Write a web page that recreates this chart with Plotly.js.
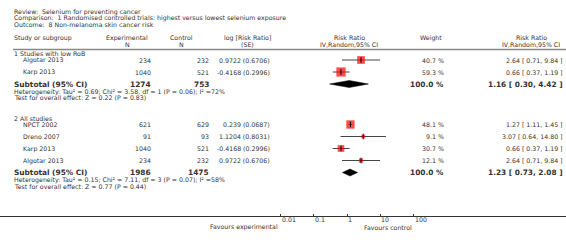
<!DOCTYPE html>
<html><head><meta charset="utf-8">
<script src="https://cdn.plot.ly/plotly-3.0.1.min.js"></script>
<style>html,body{margin:0;padding:0;background:#fff;overflow:hidden;}</style>
</head><body><div id="chart" style="width:566px;height:245px;"></div>
<script>
// ---------- data ----------
const titleLines = [
  'Review:  Selenium for preventing cancer',
  'Comparison:  1 Randomised controlled trials: highest versus lowest selenium exposure',
  'Outcome:  8 Non-melanoma skin cancer risk'
];
const headerTop = ['Study or subgroup', 'Experimental', 'Control', 'log [Risk Ratio]', 'Risk Ratio', 'Weight', 'Risk Ratio'];
const headerBottom = ['', 'N', 'N', '(SE)', 'IV,Random,95% CI', '', 'IV,Random,95% CI'];

const g1Label = '1 Studies with low RoB';
const g1Studies = ['Algotar 2013', 'Karp 2013'];
const g1ExpN = [234, 1040];
const g1CtlN = [232, 521];
const g1LogRR = ['0.9722', '-0.4168'];
const g1SE = ['0.6706', '0.2996'];
const g1Weight = [40.7, 59.3];
const g1RR = [2.64, 0.66];
const g1Lo = [0.71, 0.37];
const g1Hi = [9.84, 1.19];
const g1SubN = [1274, 753];
const g1SubRR = [1.16, 0.30, 4.42];
const g1Het = 'Heterogeneity: Tau² = 0.69; Chi² = 3.58, df = 1 (P = 0.06); I² =72%';
const g1Test = 'Test for overall effect: Z = 0.22 (P = 0.83)';

const g2Label = '2 All studies';
const g2Studies = ['NPCT 2002', 'Dreno 2007', 'Karp 2013', 'Algotar 2013'];
const g2ExpN = [621, 91, 1040, 234];
const g2CtlN = [629, 93, 521, 232];
const g2LogRR = ['0.239', '1.1204', '-0.4168', '0.9722'];
const g2SE = ['0.0687', '0.8031', '0.2996', '0.6706'];
const g2Weight = [48.1, 9.1, 30.7, 12.1];
const g2RR = [1.27, 3.07, 0.66, 2.64];
const g2Lo = [1.11, 0.64, 0.37, 0.71];
const g2Hi = [1.45, 14.80, 1.19, 9.84];
const g2SubN = [1986, 1475];
const g2SubRR = [1.23, 0.73, 2.08];
const g2Het = 'Heterogeneity: Tau² = 0.15; Chi² = 7.11, df = 3 (P = 0.07); I² =58%';
const g2Test = 'Test for overall effect: Z = 0.77 (P = 0.44)';

const axisTicks = [0.01, 0.1, 1, 10, 100];
const axisTickLabels = ['0.01', '0.1', '1', '10', '100'];
const favoursLeft = 'Favours experimental';
const favoursRight = 'Favours control';

// ---------- layout geometry (pixels) ----------
const W = 566, H = 245;
const AXIS_Y = 215.5;
const ONE_X = 347, DECADE = 33.25;
const col = { left: 13, study: 22, expN: 152, expHead: 127, ctlN: 210, ctlHead: 181,
  logRR: 271, logHead: 247, rrHead: 349, wtHead: 431, wt: 445, ciHead: 531, ci: 564 };
const FONT = 'DejaVu Sans, Verdana, sans-serif';
const TXT = '#333';
const FS = 6.25, FSB = 7.4;

const px = x => x / W;
const py = y => 1 - y / H;
const ann = [];
function text(t, x, y, anchor, opts) {
  opts = opts || {};
  ann.push({ text: t, xref: 'paper', yref: 'paper', x: px(x), y: py(y), xanchor: anchor, yanchor: 'middle',
    showarrow: false, borderpad: 0,
    font: { family: FONT, size: opts.size || FS, color: TXT, weight: opts.bold ? 'bold' : 'normal' } });
}
const fmt2 = v => v.toFixed(2);
const ciText = (r, l, h) => fmt2(r) + ' [ ' + fmt2(l) + ', ' + fmt2(h) + ' ]';

// titles
titleLines.forEach((t, i) => text(t, col.left, 12 + i * 6.3, 'left'));
// headers
const hY1 = 38, hY2 = 44.5;
text(headerTop[0], col.left, hY1, 'left');
text(headerTop[1], col.expHead, hY1, 'center'); text(headerBottom[1], col.expHead, hY2, 'center');
text(headerTop[2], col.ctlHead, hY1, 'center'); text(headerBottom[2], col.ctlHead, hY2, 'center');
text(headerTop[3], col.logHead, hY1, 'center'); text(headerBottom[3], col.logHead, hY2, 'center');
text(headerTop[4], col.rrHead, hY1, 'center'); text(headerBottom[4], col.rrHead, hY2, 'center');
text(headerTop[5], col.wtHead, hY1, 'center');
text(headerTop[6], col.ciHead, hY1, 'center'); text(headerBottom[6], col.ciHead, hY2, 'center');

const HEADER_RULE = 49.5;
const ROW = 12;
const wX = [], wY = [], sX = [], sY = [], sSize = [];
const diamonds = [];

function group(startY, label, studies, expN, ctlN, logRR, se, weight, rr, lo, hi, subN, subRR, het, test) {
  text(label, col.left, startY, 'left');
  let y = startY + 6.5;
  studies.forEach((s, i) => {
    text(s, col.study, y, 'left');
    text(String(expN[i]), col.expN, y, 'right');
    text(String(ctlN[i]), col.ctlN, y, 'right');
    text(logRR[i] + ' (' + se[i] + ')', col.logRR, y, 'right');
    text(weight[i].toFixed(1) + ' %', col.wt, y, 'right');
    text(ciText(rr[i], lo[i], hi[i]), col.ci, y, 'right');
    wX.push(lo[i], hi[i], null); wY.push(y, y, null);
    sX.push(rr[i]); sY.push(y); sSize.push(1.2 * Math.sqrt(weight[i]));
    y += ROW;
  });
  text('Subtotal (95% CI)', col.left, y, 'left', { bold: true, size: FSB });
  text(String(subN[0]), col.expN, y, 'right', { bold: true, size: FSB });
  text(String(subN[1]), col.ctlN, y, 'right', { bold: true, size: FSB });
  text('100.0 %', col.wt, y, 'right', { bold: true, size: FSB });
  text(ciText(subRR[0], subRR[1], subRR[2]), col.ci, y, 'right', { bold: true, size: FSB });
  diamonds.push({ x: [subRR[1], subRR[0], subRR[2], subRR[0], subRR[1]], y: [y, y - 3.5, y, y + 3.5, y] });
  text(het, col.left, y + 7.5, 'left');
  text(test, col.left, y + 13.5, 'left');
  return y + 13.5;
}
let endY = group(53.5, g1Label, g1Studies, g1ExpN, g1CtlN, g1LogRR, g1SE, g1Weight, g1RR, g1Lo, g1Hi, g1SubN, g1SubRR, g1Het, g1Test);
group(endY + 20.5, g2Label, g2Studies, g2ExpN, g2CtlN, g2LogRR, g2SE, g2Weight, g2RR, g2Lo, g2Hi, g2SubN, g2SubRR, g2Het, g2Test);

// axis tick labels and favours
axisTicks.forEach((v, i) => ann.push({ text: axisTickLabels[i], xref: 'x', yref: 'paper', x: Math.log10(v), y: py(219.5),
  xanchor: 'left', yanchor: 'middle', showarrow: false, borderpad: 0, font: { family: FONT, size: FS, color: TXT } }));
text(favoursLeft, 279, 227, 'right');
text(favoursRight, 363, 227, 'left');

const traces = [
  { x: wX, y: wY, mode: 'lines', line: { color: '#444', width: 1 }, hoverinfo: 'skip', cliponaxis: false },
  { x: sX, y: sY, mode: 'markers', marker: { symbol: 'square', color: '#ff0000', size: sSize, line: { width: 0 } }, hoverinfo: 'skip', cliponaxis: false },
  { x: sX, y: sY, mode: 'markers', marker: { symbol: 'line-ns', size: 4, line: { color: '#000', width: 1 } }, hoverinfo: 'skip', cliponaxis: false }
];
diamonds.forEach(d => traces.push({ x: d.x, y: d.y, mode: 'lines', fill: 'toself', fillcolor: '#000',
  line: { color: '#000', width: 0.5 }, hoverinfo: 'skip' }));

const layout = {
  width: W, height: H, margin: { l: 0, r: 0, t: 0, b: 0 }, paper_bgcolor: '#fff', plot_bgcolor: 'rgba(0,0,0,0)',
  showlegend: false,
  xaxis: { type: 'log', domain: [0, 1], range: [-ONE_X / DECADE, (W - ONE_X) / DECADE], tickvals: axisTicks,
    showticklabels: false, ticks: 'inside', ticklen: 2, tickwidth: 1, tickcolor: '#333',
    showline: true, linecolor: '#333', linewidth: 1, showgrid: false, zeroline: false, fixedrange: true },
  yaxis: { domain: [(H - AXIS_Y) / H, 1], range: [AXIS_Y, 0], visible: false, fixedrange: true },
  shapes: [
    { type: 'line', xref: 'paper', yref: 'paper', x0: px(col.left), x1: 1, y0: py(HEADER_RULE), y1: py(HEADER_RULE),
      line: { color: '#888', width: 1.3 } },
    { type: 'line', xref: 'x', yref: 'paper', x0: Math.log10(1), x1: Math.log10(1), y0: py(HEADER_RULE), y1: py(AXIS_Y),
      line: { color: '#bbb', width: 1 }, layer: 'below' }
  ],
  annotations: ann
};
Plotly.newPlot('chart', traces, layout, { staticPlot: true, displayModeBar: false });
</script></body></html>
